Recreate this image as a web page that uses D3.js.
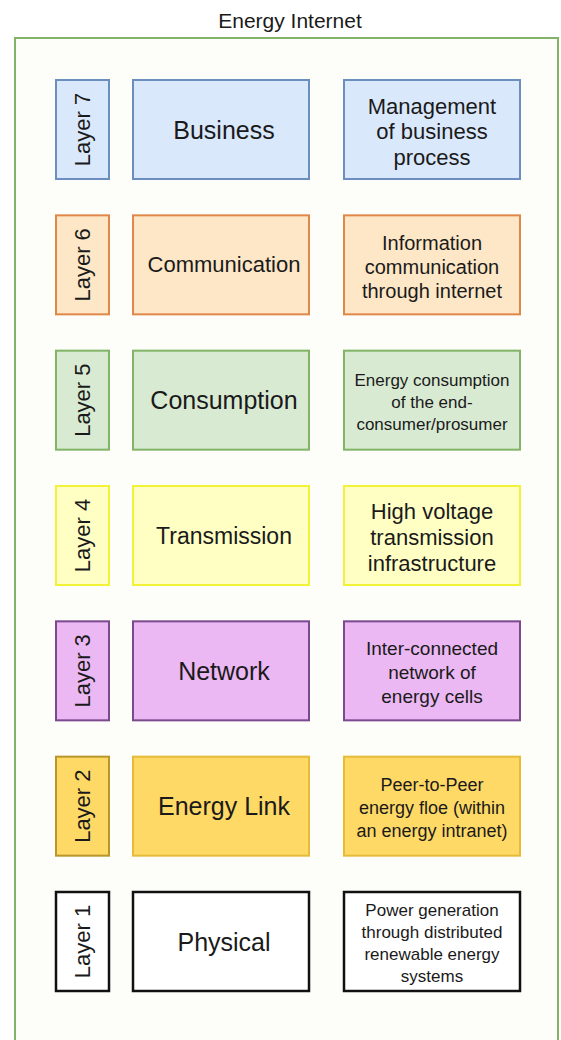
<!DOCTYPE html>
<html>
<head>
<meta charset="utf-8">
<script src="https://cdn.jsdelivr.net/npm/d3@7"></script>
<style>
  body { margin: 0; background: #ffffff; }
  text { font-family: "Liberation Sans", Arial, sans-serif; fill: #1a1a1a; }
</style>
</head>
<body>
<div id="chart"></div>
<script>
// Data
const title = "Energy Internet";
const layers = ["Layer 7", "Layer 6", "Layer 5", "Layer 4", "Layer 3", "Layer 2", "Layer 1"];
const names = ["Business", "Communication", "Consumption", "Transmission", "Network", "Energy Link", "Physical"];
const descriptions = [
  ["Management", "of business", "process"],
  ["Information", "communication", "through internet"],
  ["Energy consumption", "of the end-", "consumer/prosumer"],
  ["High voltage", "transmission", "infrastructure"],
  ["Inter-connected", "network of", "energy cells"],
  ["Peer-to-Peer", "energy floe (within", "an energy intranet)"],
  ["Power generation", "through distributed", "renewable energy", "systems"]
];

// Styles (one per layer)
const fills   = ["#dae8fc", "#fde7c6", "#d9ead3", "#ffffc4", "#ebb8f3", "#ffd966", "#ffffff"];
const strokes = ["#6c8ebf", "#e0884a", "#82b366", "#f2f236", "#7a4a8c", "#e6bb3a", "#111111"];
const layerStrokes = ["#6c8ebf", "#e0884a", "#82b366", "#f2f236", "#7a4a8c", "#b8962a", "#111111"];
const nameSize = [25, 22, 25, 23, 25, 25, 25];
const descSize = [22, 20, 17, 22, 19, 18, 17];
const descLine = [25.5, 24, 22, 26, 24, 23, 22];

const W = 561, H = 1040;
const boxH = 99;

let svg = d3.select("#chart")
  .append("svg")
    .attr("width", W)
    .attr("height", H);

// Row scale
let y = d3.scalePoint()
  .domain(layers)
  .range([80, 892]);

// Column scale
let x = d3.scaleOrdinal()
  .domain(["layer", "name", "desc"])
  .range([56, 133, 344]);
let colW = { layer: 53, name: 176, desc: 176 };

// Frame
svg.append("rect")
  .attr("x", 15)
  .attr("y", 38)
  .attr("width", 543)
  .attr("height", 1020)
  .style("fill", "#fdfdf9")
  .style("stroke", "#82b366")
  .style("stroke-width", 2);

// Title
svg.append("text")
  .attr("x", 290)
  .attr("y", 28)
  .attr("text-anchor", "middle")
  .attr("font-size", "21px")
  .text(title);

let rows = svg.selectAll("g.row")
  .data(layers)
  .enter()
  .append("g")
    .attr("class", "row")
    .attr("transform", (d) => "translate(0," + y(d) + ")");

// Boxes
["layer", "name", "desc"].forEach((col) => {
  rows.append("rect")
    .attr("x", x(col))
    .attr("y", 0)
    .attr("width", colW[col])
    .attr("height", boxH)
    .style("fill", (d, i) => fills[i])
    .style("stroke", (d, i) => col == "layer" ? layerStrokes[i] : strokes[i])
    .style("stroke-width", (d, i) => i == 6 ? 2.5 : 2);
});

// Layer labels (rotated)
rows.append("text")
  .attr("transform", "translate(" + (x("layer") + colW.layer / 2) + "," + boxH / 2 + ")rotate(-90)")
  .attr("text-anchor", "middle")
  .attr("dominant-baseline", "central")
  .attr("font-size", "22px")
  .text((d) => d);

// Names
rows.append("text")
  .attr("x", x("name") + colW.name / 2 + 3)
  .attr("y", boxH / 2)
  .attr("text-anchor", "middle")
  .attr("dominant-baseline", "central")
  .attr("font-size", (d, i) => nameSize[i] + "px")
  .text((d, i) => names[i]);

// Descriptions
rows.each(function(d, i) {
  let lines = descriptions[i];
  let lh = descLine[i];
  let y0 = boxH / 2 - (lines.length - 1) * lh / 2 + 2;
  d3.select(this).selectAll("text.desc")
    .data(lines)
    .enter()
    .append("text")
      .attr("class", "desc")
      .attr("x", x("desc") + colW.desc / 2)
      .attr("y", (l, j) => y0 + j * lh)
      .attr("text-anchor", "middle")
      .attr("dominant-baseline", "central")
      .attr("font-size", descSize[i] + "px")
      .text((l) => l);
});
</script>
</body>
</html>
